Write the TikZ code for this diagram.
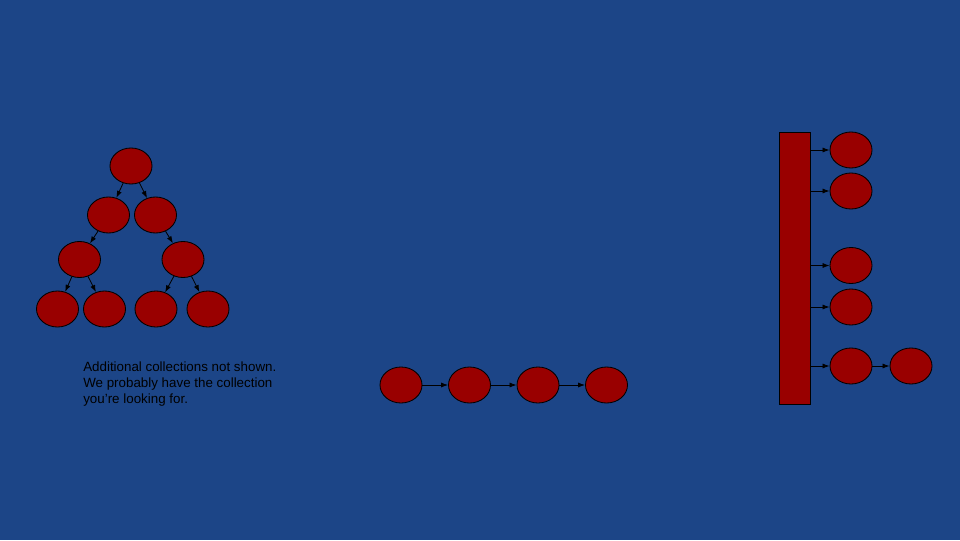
\documentclass[tikz,border=0pt]{standalone}
\usepackage{fontspec}
\setmainfont{Liberation Sans}
\usetikzlibrary{positioning, calc, shapes.geometric, arrows.meta}
\definecolor{slideblue}{RGB}{28,69,135}
\definecolor{cellred}{RGB}{153,0,0}
\tikzset{
	cell/.style={
		draw,
		ellipse,
		fill=cellred,
		line width=0.6pt,
		inner sep=0pt,
		minimum width=1.05cm,
		minimum height=0.9cm
	},
	bucket/.style={
		draw,
		rectangle,
		fill=cellred,
		line width=0.6pt,
		inner sep=0pt,
		minimum width=0.775cm,
		minimum height=6.8cm
	},
	link/.style={
		line width=0.6pt,
		-{Latex[length=5pt,width=3.6pt]}
	}
}

\begin{document}
\begin{tikzpicture}[x=0.025cm, y=-0.025cm]
		\fill[slideblue] (0,0) rectangle (960,540);
		\useasboundingbox (0,0) rectangle (960,540);
		
		% tree
		\node[cell] (root) at (131,166) {};
		\node[cell] (l) at (108.5,215) {};
		\node[cell] (r) at (155.5,215) {};
		\node[cell] (ll) at (79.5,259.5) {};
		\node[cell] (rr) at (183,259.5) {};
		\node[cell] (lll) at (57.5,309) {};
		\node[cell] (llr) at (104.5,309) {};
		\node[cell] (rrl) at (156,309) {};
		\node[cell] (rrr) at (208,309) {};
		
		\begin{scope}[link]
		\draw (root) -- (l);
		\draw (root) -- (r);
		\draw (l) -- (ll);
		\draw (r) -- (rr);
		\draw (ll) -- (lll);
		\draw (ll) -- (llr);
		\draw (rr) -- (rrl);
		\draw (rr) -- (rrr);
		\end{scope}
		
		\node[anchor=north west, align=left, inner sep=0pt,
			font=\fontsize{9.5}{11.3}\selectfont] (note) at (83,362)
			{Additional collections not shown.\\
			We probably have the collection\\
			you're looking for.};
		
		% linked list
		\foreach \i/\x in {1/401, 2/469.5, 3/538, 4/606.5} {
			\node[cell] (list-\i) at (\x,385) {};
		}
		\foreach \i/\j in {1/2, 2/3, 3/4} {
			\draw[link] (list-\i) -- (list-\j);
		}
		
		% hash table
		\node[bucket] (table) at (794.5,268) {};
		\foreach \i/\y in {1/150, 2/191, 3/265.5, 4/307, 5/366} {
			\node[cell] (slot-\i) at (851,\y) {};
			\draw[link] (table.east |- slot-\i) -- (slot-\i);
		}
		\node[cell] (chain) at (911,366) {};
		\draw[link] (slot-5) -- (chain);
		\end{tikzpicture}
\end{document}
